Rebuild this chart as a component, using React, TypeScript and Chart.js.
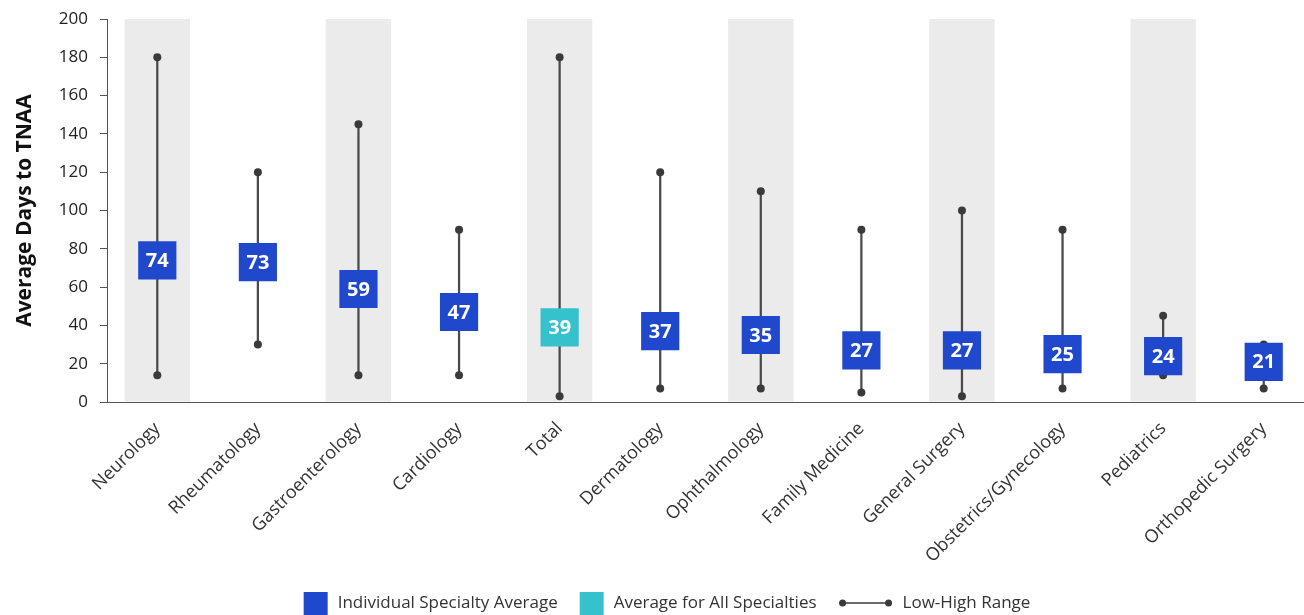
import React, { useEffect, useRef } from "react";
import { Chart, registerables } from "chart.js";

Chart.register(...registerables);

const categories = [
  "Neurology",
  "Rheumatology",
  "Gastroenterology",
  "Cardiology",
  "Total",
  "Dermatology",
  "Ophthalmology",
  "Family Medicine",
  "General Surgery",
  "Obstetrics/Gynecology",
  "Pediatrics",
  "Orthopedic Surgery",
];
const averages = [74, 73, 59, 47, 39, 37, 35, 27, 27, 25, 24, 21];
const lows = [14, 30, 14, 14, 3, 7, 7, 5, 3, 7, 14, 7];
const highs = [180, 120, 145, 90, 180, 120, 110, 90, 100, 90, 45, 30];
const shaded = [true, false, true, false, true, false, true, false, true, false, true, false];
const totalCategory = "Total";
const yTicks = [0, 20, 40, 60, 80, 100, 120, 140, 160, 180, 200];
const yMax = 200;
const legendLabels = ["Individual Specialty Average", "Average for All Specialties", "Low-High Range"];

const BLUE = "#1f48cc";
const TEAL = "#35c2cc";
const DARK = "#3a3a3a";
const BAND = "#ebebeb";
const FONT = "'Open Sans', 'Noto Sans', sans-serif";

const valueLabelPlugin = {
  id: "valueLabels",
  afterDatasetsDraw(chart: any) {
    const ctx = chart.ctx;
    const idx = chart.data.datasets.findIndex((d: any) => d.label === "avg");
    const meta = chart.getDatasetMeta(idx);
    ctx.save();
    ctx.font = `bold 20px ${FONT}`;
    ctx.fillStyle = "#ffffff";
    ctx.textAlign = "center";
    ctx.textBaseline = "middle";
    meta.data.forEach((el: any, i: number) => {
      ctx.fillText(String(averages[i]), el.x, el.y + 1);
    });
    ctx.restore();
  },
};

const customLegendPlugin = {
  id: "customLegend",
  afterDraw(chart: any) {
    const ctx = chart.ctx;
    ctx.save();
    ctx.font = `17px ${FONT}`;
    ctx.textBaseline = "middle";
    const boxW = 24;
    const gap = 10;
    const itemGap = 22;
    const lineW = 54;
    const items = [
      { kind: "box", color: BLUE, text: legendLabels[0] },
      { kind: "box", color: TEAL, text: legendLabels[1] },
      { kind: "line", color: DARK, text: legendLabels[2] },
    ];
    const widths = items.map(
      (it) => (it.kind === "box" ? boxW : lineW) + gap + ctx.measureText(it.text).width
    );
    const total = widths.reduce((a, b) => a + b, 0) + itemGap * (items.length - 1);
    const centerX = 667;
    const cy = 603;
    let x = centerX - total / 2;
    items.forEach((it, i) => {
      if (it.kind === "box") {
        ctx.fillStyle = it.color;
        ctx.fillRect(x, cy - 11, boxW, 23);
        ctx.fillStyle = "#333333";
        ctx.fillText(it.text, x + boxW + gap, cy);
      } else {
        ctx.strokeStyle = it.color;
        ctx.lineWidth = 1.5;
        ctx.beginPath();
        ctx.moveTo(x + 4, cy);
        ctx.lineTo(x + lineW - 4, cy);
        ctx.stroke();
        ctx.fillStyle = it.color;
        [x + 4, x + lineW - 4].forEach((px) => {
          ctx.beginPath();
          ctx.arc(px, cy, 3.5, 0, Math.PI * 2);
          ctx.fill();
        });
        ctx.fillStyle = "#333333";
        ctx.fillText(it.text, x + lineW + gap, cy);
      }
      x += widths[i] + itemGap;
    });
    ctx.restore();
  },
};

export default function App() {
  const canvasRef = useRef<HTMLCanvasElement | null>(null);

  useEffect(() => {
    if (!canvasRef.current) return;
    Chart.defaults.font.family = FONT;
    const chart = new Chart(canvasRef.current, {
      type: "bar",
      data: {
        labels: categories,
        datasets: [
          {
            label: "avg",
            type: "line",
            data: averages,
            showLine: false,
            pointStyle: "rect",
            pointRadius: 27,
            pointHoverRadius: 27,
            pointBorderWidth: 0,
            pointBackgroundColor: categories.map((c) => (c === totalCategory ? TEAL : BLUE)),
            pointBorderColor: categories.map((c) => (c === totalCategory ? TEAL : BLUE)),
            order: 1,
          } as any,
          {
            label: "low",
            type: "line",
            data: lows,
            showLine: false,
            pointRadius: 4,
            pointBorderWidth: 0,
            pointBackgroundColor: DARK,
            order: 2,
          } as any,
          {
            label: "high",
            type: "line",
            data: highs,
            showLine: false,
            pointRadius: 4,
            pointBorderWidth: 0,
            pointBackgroundColor: DARK,
            order: 2,
          } as any,
          {
            label: "range",
            type: "bar",
            data: lows.map((l, i) => [l, highs[i]]),
            backgroundColor: "#4a4a4a",
            barThickness: 1.6,
            grouped: false,
            order: 3,
          } as any,
          {
            label: "band",
            type: "bar",
            data: shaded.map((s) => (s ? yMax : null)),
            backgroundColor: BAND,
            barPercentage: 0.65,
            categoryPercentage: 1,
            grouped: false,
            order: 4,
          } as any,
        ],
      },
      options: {
        animation: false,
        responsive: false,
        maintainAspectRatio: false,
        layout: { autoPadding: false, padding: { top: 19, right: 6, left: 0, bottom: 0 } },
        plugins: {
          legend: { display: false },
          tooltip: { enabled: false },
        },
        scales: {
          x: {
            grid: { display: false },
            border: { display: true, color: "#555555", width: 1 },
            ticks: {
              color: "#333333",
              font: { size: 18, family: FONT },
              maxRotation: 45,
              minRotation: 45,
              autoSkip: false,
              padding: 8,
            },
            afterFit(scale: any) {
              scale.height = 213;
            },
          },
          y: {
            min: 0,
            max: yMax,
            afterBuildTicks(scale: any) {
              scale.ticks = yTicks.map((v) => ({ value: v }));
            },
            grid: {
              drawOnChartArea: false,
              drawTicks: true,
              tickLength: 7,
              color: "#555555",
            },
            border: { display: true, color: "#555555", width: 1 },
            ticks: {
              color: "#222222",
              font: { size: 17, family: FONT },
              padding: 12,
            },
            title: {
              display: true,
              text: "Average Days to TNAA",
              color: "#111111",
              font: { size: 21, weight: "bold", family: FONT },
              padding: { top: 12, bottom: 4 },
            },
            afterFit(scale: any) {
              scale.width = 107;
              scale.paddingTop = 0;
              scale.paddingBottom = 0;
            },
          },
        },
      },
      plugins: [valueLabelPlugin, customLegendPlugin],
    });
    return () => chart.destroy();
  }, []);

  return (
    <div
      style={{
        position: "fixed",
        left: 0,
        top: 0,
        width: 1304,
        height: 615,
        overflow: "hidden",
        background: "#ffffff",
      }}
    >
      <canvas ref={canvasRef} width={1320} height={615} style={{ display: "block" }} />
    </div>
  );
}
